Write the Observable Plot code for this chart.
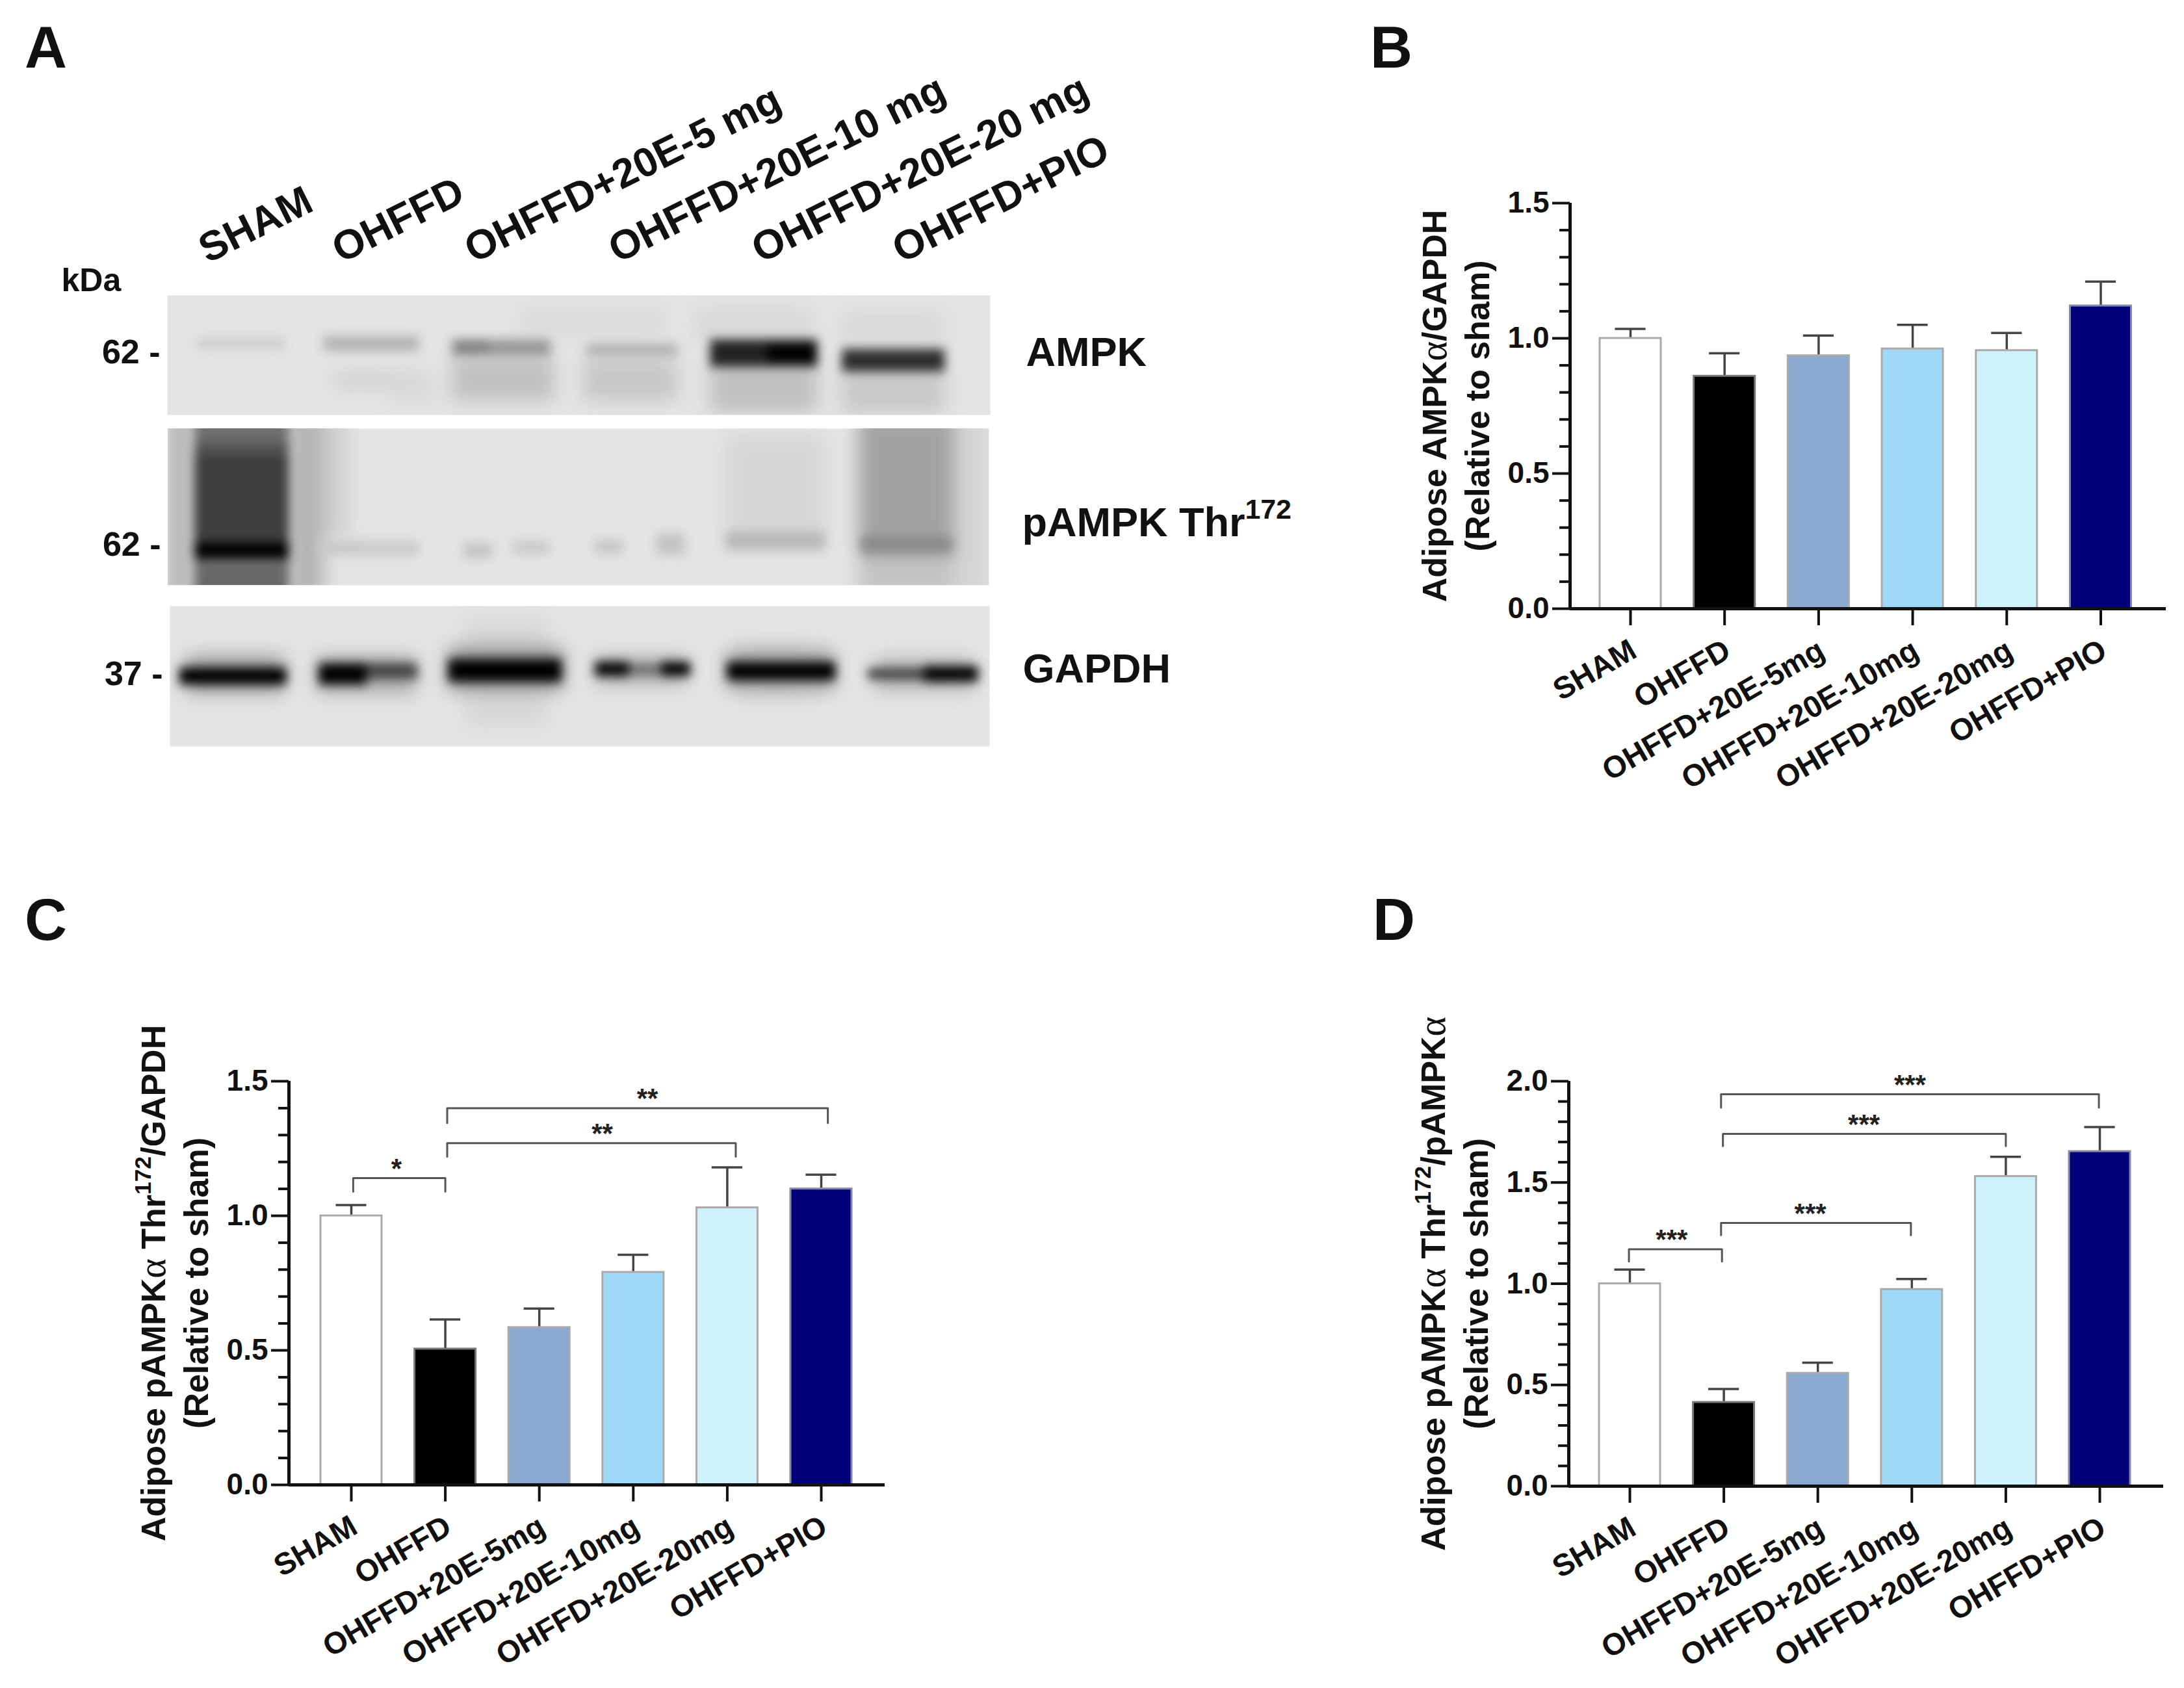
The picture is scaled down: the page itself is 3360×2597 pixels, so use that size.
<!DOCTYPE html>
<html>
<head>
<meta charset="utf-8">
<script src="https://cdn.jsdelivr.net/npm/d3@7"></script>
<script src="https://cdn.jsdelivr.net/npm/@observablehq/plot@0.6"></script>
<style>
  html,body{margin:0;padding:0;background:#fff;}
  #page{position:relative;width:3360px;height:2597px;overflow:hidden;font-family:"Liberation Sans",Arial,sans-serif;}
  #page svg{position:absolute;max-width:none;background:transparent;}
  .letter{position:absolute;font-weight:bold;font-size:90px;line-height:1;color:#111;}
</style>
</head>
<body>
<div id="page"></div>
<script>
const groups = ["SHAM","OHFFD","OHFFD+20E-5mg","OHFFD+20E-10mg","OHFFD+20E-20mg","OHFFD+PIO"];
const fills = ["#ffffff","#000000","#8aa9d1","#a0d9f7","#cdf2fc","#00007b"];
const strokes = ["#aaaaaa","#777777","#aaaaaa","#aaaaaa","#aaaaaa","#8888aa"];

const bMeans = [1.0,0.86,0.936,0.961,0.955,1.12];
const bTops  = [1.035,0.945,1.01,1.05,1.02,1.21];
const cMeans = [1.0,0.505,0.585,0.79,1.03,1.10];
const cTops  = [1.04,0.615,0.655,0.855,1.18,1.153];
const dMeans = [1.0,0.414,0.558,0.972,1.53,1.653];
const dTops  = [1.07,0.48,0.61,1.023,1.627,1.774];

// [from, to, bar level, left foot, right foot]
const cBrackets = [[0.02,1.0,1.14,1.09,1.09],[1.02,4.09,1.27,1.22,1.22],[1.02,5.07,1.40,1.345,1.345]];
const cStars = [[0.48,1.14,"*"],[2.67,1.27,"**"],[3.15,1.40,"**"]];
const dBrackets = [[-0.01,0.98,1.17,1.11,1.11],[0.97,2.99,1.30,1.24,1.24],[0.99,4.0,1.74,1.68,1.68],[0.97,4.99,1.936,1.87,1.87]];
const dStars = [[0.445,1.17,"***"],[1.92,1.30,"***"],[2.49,1.74,"***"],[2.98,1.936,"***"]];

const laneNames = ["SHAM","OHFFD","OHFFD+20E-5 mg","OHFFD+20E-10 mg","OHFFD+20E-20 mg","OHFFD+PIO"];
const lanePos = [4.9,21.1,37.2,54.7,72.1,89.2];

// blot bands in percent of strip: [x1,x2,y1,y2,gray]
const ampkSoft = [
 [43,60.5,11,34,"#dadada"],[64,78.5,11,38,"#d8d8d8"],[82,94.5,14,41,"#d8d8d8"],
 [34.6,47,52,88,"#c0c0c0"],[50.6,62,54,88,"#c6c6c6"],[66,79,56,98,"#c0c0c0"],[82,94.5,62,99,"#c8c8c8"],
 [20.3,31.6,66,77,"#cccccc"],[27,33,72,90,"#dadada"]
];
const ampkSharp = [
 [3.7,14.3,36,45,"#cccccc"],[19,30.6,34,47,"#b4b4b4"],[34.6,46.6,37,51,"#989898"],[35,39,38,48,"#808080"],
 [51,62,41,51,"#b0b0b0"],[66,79,37,60,"#222222"],[73,79,41,56,"#000000"],[82,94.5,45,64,"#2e2e2e"]
];
const pSoft = [
 [0,3,-10,110,"#b4b4b4"],[14.8,19,-10,110,"#b4b4b4"],[19,22,-10,70,"#d0d0d0"],
 [68,80,4,78,"#d6d6d6"],[84.2,95.8,-10,82,"#a2a2a2"],[84.2,95.8,82,110,"#c4c4c4"],[96,100,-10,110,"#d4d4d4"]
];
const pSharp = [
 [3.2,14.8,-10,8,"#707070"],[3.2,14.8,8,16,"#555555"],[3.2,14.8,16,76,"#3e3e3e"],[3.2,14.8,85,110,"#686868"],[3.2,14.8,73,84,"#000000"],
 [18.5,30.5,72,81,"#c8c8c8"],[36,39.5,73,83,"#c4c4c4"],[42,46.5,72,80,"#c8c8c8"],
 [52,55.5,71,80,"#c6c6c6"],[59.5,63,67,81,"#c4c4c4"],[68,80,66,77,"#b8b8b8"],[84.5,95.5,69,79,"#8a8a8a"]
];
const gSoft = [
 [36,46,10,85,"#d6d6d6"],[70,78,22,70,"#dcdcdc"],
 [2,14,36,62,"#9a9a9a"],[18,30,36,62,"#a8a8a8"],[34,48,30,60,"#909090"],[52,63,36,56,"#b0b0b0"],[68,81,32,60,"#9a9a9a"],[86,98,38,60,"#b0b0b0"]
];
const gSharp = [
 [1.2,14.2,44,56,"#000000"],[18.2,24,41,56,"#000000"],[24,30.2,41,52,"#444444"],[34,47.8,38,54,"#000000"],
 [51.9,56,40,50,"#000000"],[56,60,42,49,"#666666"],[60,63.5,40,50,"#000000"],[68,81.2,40,53,"#000000"],
 [85.2,92,45,52,"#363636"],[92,98.6,43,54,"#000000"]
];

const page = document.getElementById("page");
const font = {fontFamily:'"Liberation Sans",Arial,sans-serif',background:"transparent",overflow:"visible"};

function rich(svg){
  d3.select(svg).selectAll("text, text tspan").each(function(){
    if (this.childElementCount) return;
    const s = this.textContent;
    if (!/[\^α]/.test(s)) return;
    const el = d3.select(this); el.text(null);
    s.split(/(\^[^^]*\^|α)/).filter(Boolean).forEach(p=>{
      if (p==="α") el.append("tspan").attr("font-family",'"Liberation Serif",serif').attr("font-weight","normal").attr("font-size","112%").text(p);
      else if (p[0]==="^") el.append("tspan").attr("font-size","68%").attr("baseline-shift","62%").text(p.slice(1,-1));
      else el.append("tspan").text(p);
    });
  });
  return svg;
}
function place(svg,left,top){
  rich(svg); svg.style.left=left+"px"; svg.style.top=top+"px"; page.appendChild(svg);
}

function barPanel({axisX,endX,tick0,step,y0,yTop,yMax,means,tops,label,brackets=[],stars=[]}){
  const mL=270, mT=30, mB=320, mR=20;
  const plotH=y0-yTop;
  const plotW=endX-axisX;
  const xMin=(axisX-tick0)/step, xMax=(endX-tick0)/step;
  const idx=d3.range(groups.length);
  const major=d3.range(0,yMax+1e-9,0.5);
  const minor=d3.range(0,Math.round(yMax*10)+1).map(d=>d/10).filter(d=>Math.round(d*10)%5!==0);
  const paths=brackets.flatMap((b,k)=>[
    {k,x:b[0],y:b[3]},{k,x:b[0],y:b[2]},{k,x:b[1],y:b[2]},{k,x:b[1],y:b[4]}]);
  const svg=Plot.plot({
    width:mL+plotW+mR,height:mT+plotH+mB,marginLeft:mL,marginRight:mR,marginTop:mT,marginBottom:mB,
    x:{domain:[xMin,xMax],axis:null},
    y:{domain:[0,yMax],axis:null},
    style:font,
    marks:[
      Plot.ruleX(idx,{x:d=>d,y1:d=>means[d],y2:d=>tops[d],stroke:"#444",strokeWidth:3.5}),
      Plot.ruleY(idx,{y:d=>tops[d],x1:d=>d-0.163,x2:d=>d+0.163,stroke:"#444",strokeWidth:3.5}),
      Plot.rectY(idx,{x1:d=>d-0.325,x2:d=>d+0.325,y1:0,y2:d=>means[d],fill:d=>fills[d],stroke:d=>strokes[d],strokeWidth:3}),
      Plot.axisY({ticks:minor,anchor:"left",tickSize:16,fill:"none",stroke:"#111",strokeWidth:4,label:null}),
      Plot.axisY({ticks:major,anchor:"left",tickSize:27,tickPadding:5,tickFormat:d=>d.toFixed(1),stroke:"#111",strokeWidth:4,fontSize:46,fontWeight:"bold",fill:"#111",label:null}),
      Plot.axisX({ticks:idx,anchor:"bottom",tickSize:26,fill:"none",stroke:"#111",strokeWidth:4,label:null}),
      Plot.axisX({ticks:idx,anchor:"bottom",tickSize:0,tickPadding:60,tickRotate:-30,tickFormat:d=>groups[d],fontSize:47,fontWeight:"bold",fill:"#111",label:null,dx:5}),
      Plot.ruleX([xMin],{y1:0,y2:yMax,stroke:"#111",strokeWidth:5}),
      Plot.ruleY([0],{stroke:"#111",strokeWidth:5}),
      Plot.line(paths,{x:"x",y:"y",z:"k",stroke:"#555",strokeWidth:3,curve:"linear"}),
      Plot.text(stars,{x:d=>d[0],y:d=>d[1],text:d=>d[2],fontSize:42,fontWeight:"bold",fill:"#222",dy:-14}),
      Plot.text([label],{x:xMin,y:yMax/2,text:d=>d,dx:-179,rotate:-90,fontSize:52,fontWeight:"bold",fill:"#111",lineHeight:1.27,textAnchor:"middle"})
    ]
  });
  place(svg,axisX-mL,yTop-mT);
}

barPanel({axisX:2415,endX:3332,tick0:2508,step:144.7,y0:936,yTop:312,yMax:1.5,means:bMeans,tops:bTops,
  label:"Adipose AMPKα/GAPDH\n(Relative to sham)"});
barPanel({axisX:444,endX:1361,tick0:540,step:144.6,y0:2284,yTop:1663,yMax:1.5,means:cMeans,tops:cTops,
  label:"Adipose pAMPKα Thr^172^/GAPDH\n(Relative to sham)",brackets:cBrackets,stars:cStars});
barPanel({axisX:2413,endX:3328,tick0:2507,step:144.6,y0:2286,yTop:1663,yMax:2.0,means:dMeans,tops:dTops,
  label:"Adipose pAMPKα Thr^172^/pAMPKα\n(Relative to sham)",brackets:dBrackets,stars:dStars});

function bandMark(rows,blur){
  return Plot.rect(rows,{x1:d=>d[0],x2:d=>d[1],y1:d=>d[2],y2:d=>d[3],fill:d=>d[4],clip:true,imageFilter:`blur(${blur}px)`});
}
function blot({left,right,top,bottom,soft,sharp,kda,kdaY,name,nameY,nameDx,extra=[],svgTop}){
  const mT=top-svgTop;
  const svg=Plot.plot({
    width:2100,height:mT+(bottom-top)+40,marginLeft:left,marginRight:2100-right,marginTop:mT,marginBottom:40,
    x:{domain:[0,100],axis:null},y:{domain:[100,0],axis:null},style:font,
    marks:[
      Plot.frame({fill:"#e4e4e4",stroke:"none"}),
      bandMark(soft,14),
      bandMark(sharp,8),
      Plot.text([kda+" -"],{x:0,y:kdaY,text:d=>d,dx:-11,textAnchor:"end",fontSize:52,fontWeight:"bold",fill:"#111"}),
      Plot.text([name],{x:100,y:nameY,text:d=>d,dx:nameDx,textAnchor:"start",fontSize:63,fontWeight:"bold",fill:"#111"}),
      ...extra
    ]
  });
  place(svg,0,svgTop);
}
blot({left:257,right:1523,top:454,bottom:638,svgTop:0,soft:ampkSoft,sharp:ampkSharp,kda:"62",kdaY:47.8,name:"AMPK",nameY:47.8,nameDx:55,
  extra:[
    Plot.text(laneNames,{x:(d,i)=>lanePos[i],y:0,text:d=>d,dy:-49,rotate:-26.5,textAnchor:"start",lineAnchor:"bottom",fontSize:63,fontWeight:"bold",fill:"#111"}),
    Plot.text(["kDa"],{x:0,y:0,text:d=>d,dx:-163,dy:-23,textAnchor:"start",fontSize:50,fontWeight:"bold",fill:"#111"})
  ]});
blot({left:258,right:1521,top:659,bottom:900,svgTop:620,soft:pSoft,sharp:pSharp,kda:"62",kdaY:74.3,name:"pAMPK Thr^172^",nameY:60.2,nameDx:51});
blot({left:261,right:1522,top:932,bottom:1148,svgTop:900,soft:gSoft,sharp:gSharp,kda:"37",kdaY:48.6,name:"GAPDH",nameY:45,nameDx:51});

[["A",38,28],["B",2108,28],["C",38,1370],["D",2112,1370]].forEach(([t,x,y])=>{
  const d=document.createElement("div"); d.className="letter"; d.textContent=t;
  d.style.left=x+"px"; d.style.top=y+"px"; page.appendChild(d);
});
</script>
</body>
</html>
